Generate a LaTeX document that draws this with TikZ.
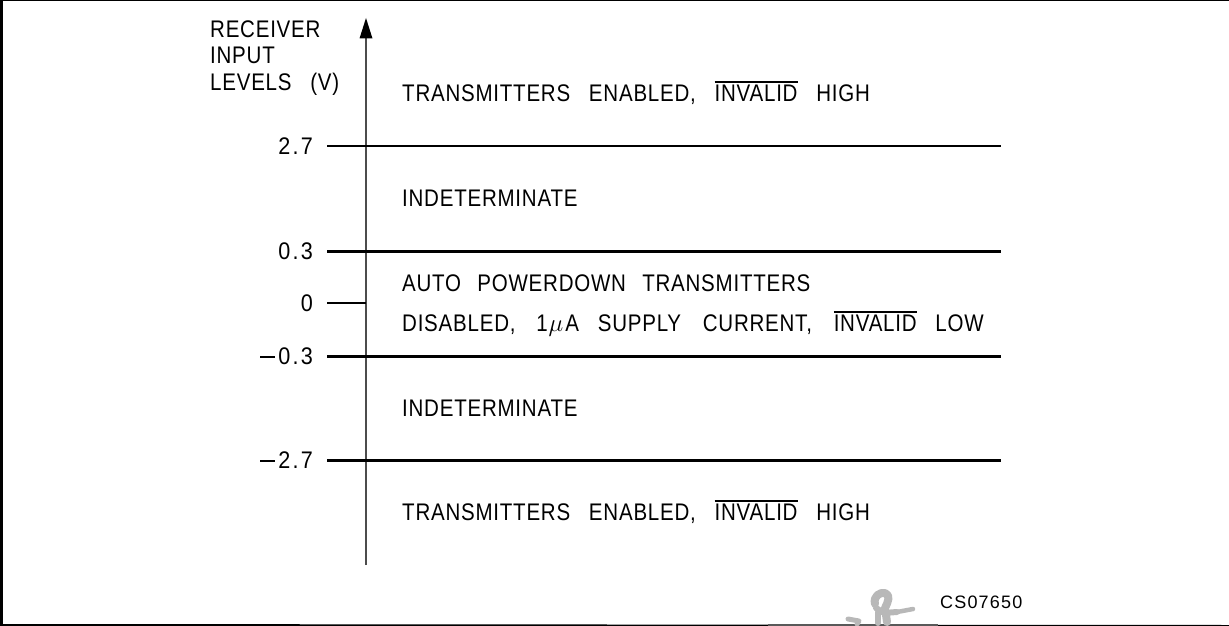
\documentclass[tikz,border=0pt]{standalone}
\usepackage{fontspec}
\setmainfont[FakeStretch=0.855,WordSpace=2.9,LetterSpace=3.2]{Liberation Sans}
\newfontfamily\valfont[FakeStretch=0.9,LetterSpace=9]{Liberation Sans}
\newfontfamily\csfont[LetterSpace=6.5]{Liberation Sans}
\newlength{\ovlw}
\newcommand{\ovl}[1]{\settowidth{\ovlw}{#1}\rlap{\raisebox{19pt}{\rule{\ovlw}{1.3pt}}}#1}
\newcommand{\minusbar}{\rule[7pt]{15pt}{1.3pt}\hspace{3pt}}
\tikzset{
  lab/.style={inner sep=0pt,anchor=base west,font=\fontsize{24}{24}\selectfont,text=black},
  val/.style={inner sep=0pt,anchor=base east,font=\valfont\fontsize{24}{24}\selectfont,text=black},
  thin level/.style={line width=1.6pt,black},
  level/.style={line width=2.8pt,black},
  axis/.style={line width=1.2pt,black!70},
  frame/.style={line width=2.6pt,black},
  wmark/.style={black!28,line cap=round,line join=round}
}
\begin{document}
\begin{tikzpicture}[x=1pt,y=-1pt]
\useasboundingbox (0,0) rectangle (1229,626);
\coordinate (tl) at (0,0); \coordinate (tr) at (1229,0);
\coordinate (bl) at (1.5,626); \coordinate (br) at (1229,626);
\coordinate (tl2) at (1.5,0);
\draw[frame] (tl) -- (tr);
\draw[frame] (tl2) -- (bl);
\draw[line width=2pt,black] (0,625) -- (br);
\draw[line width=2pt,black!65] (768,625) -- (938,625);
\draw[wmark,line width=8pt] (875,604) .. controls (873,596) and (880,592) .. (885,593) .. controls (891,595) and (888,602) .. (885,608) -- (887,622);
\draw[wmark,line width=6pt] (876,608) -- (884,613) -- (897,612);
\draw[wmark,line width=4.5pt] (897,612) -- (913,609);
\draw[wmark,line width=6pt] (878,612) -- (878,623);
\draw[wmark,line width=5pt] (848,619) -- (859,621) -- (857,624);
\coordinate (ab) at (366,565); \coordinate (at) at (366,36);
\draw[axis] (ab) -- (at);
\coordinate (h1) at (366,18); \coordinate (h2) at (359.5,38.5); \coordinate (h3) at (372.5,38.5);
\fill[black] (h1) -- (h2) -- (h3) -- cycle;
\coordinate (a1) at (327,146); \coordinate (a2) at (1001,146);
\coordinate (b1) at (327,251.5); \coordinate (b2) at (1001,251.5);
\coordinate (c1) at (327,356.5); \coordinate (c2) at (1001,356.5);
\coordinate (d1) at (327,460.5); \coordinate (d2) at (1001,460.5);
\coordinate (e1) at (327,303); \coordinate (e2) at (366,303);
\draw[thin level] (a1) -- (a2);
\draw[level] (b1) -- (b2);
\draw[level] (c1) -- (c2);
\draw[level] (d1) -- (d2);
\draw[thin level] (e1) -- (e2);
\node[lab] (t1) at (210,37.7) {RECEIVER};
\node[lab] (t2) at (210,63.7) {INPUT};
\node[lab] (t3) at (210,90.7) {LEVELS (V)};
\node[val] (v1) at (313,154.7) {2.7};
\node[val] (v2) at (313,259.7) {0.3};
\node[val] (v3) at (313,311.7) {0};
\node[val] (v4) at (313,364.7) {\minusbar 0.3};
\node[val] (v5) at (313,468.7) {\minusbar 2.7};
\node[lab] (r1) at (402,101.7) {TRANSMITTERS ENABLED, \ovl{INVALID} HIGH};
\node[lab] (r2) at (402,206.7) {INDETERMINATE};
\node[lab] (r3) at (402,291.7) {AUTO\hspace{-2.5pt} POWERDOWN\hspace{-2.5pt} TRANSMITTERS};
\node[lab] (r4) at (402,331.7) {DISABLED, \hspace{2pt}1\hspace{1pt}{\fontsize{30}{30}\selectfont$\mu$}\hspace{2pt}A SUPPLY\hspace{3pt} CURRENT,\hspace{3pt} \ovl{INVALID} LOW};
\node[lab] (r5) at (402,416.7) {INDETERMINATE};
\node[lab] (r6) at (402,520.7) {TRANSMITTERS ENABLED, \ovl{INVALID} HIGH};
\node[inner sep=0pt,anchor=base west,font=\csfont\fontsize{18}{18}\selectfont] (cs) at (940,608) {CS07650};
\end{tikzpicture}
\end{document}
